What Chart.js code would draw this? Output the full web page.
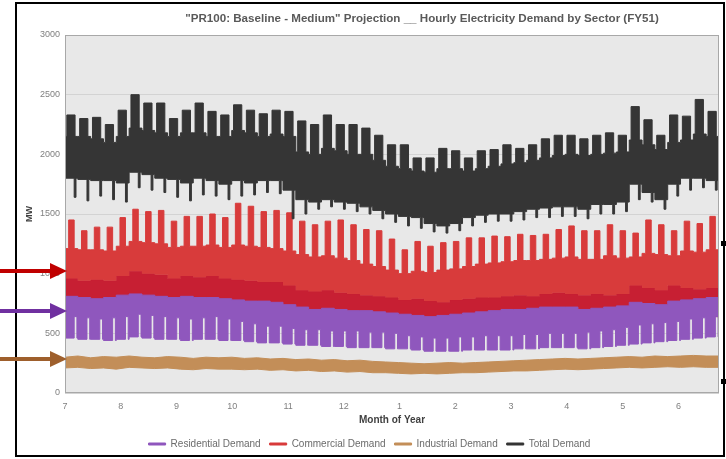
<!DOCTYPE html>
<html>
<head>
<meta charset="utf-8">
<script src="https://cdn.jsdelivr.net/npm/chart.js@4.4.0/dist/chart.umd.min.js"></script>
<style>
  html, body { margin: 0; padding: 0; background: #fff; }
  canvas { display: block; }
</style>
</head>
<body>
<canvas id="chart" width="726" height="459"></canvas>
<script>
// month tick labels (fiscal year starts in July)
const monthLabels = ['7', '8', '9', '10', '11', '12', '1', '2', '3', '4', '5', '6'];
const legendNames = ['Residential Demand', 'Commercial Demand', 'Industrial Demand', 'Total Demand'];

// weekly readings, MW (week 0 = first week of July)
const totalPeak = [2330, 2300, 2310, 2250, 2370, 2500, 2430, 2430, 2300, 2370, 2430, 2360, 2330,
  2415, 2370, 2340, 2370, 2360, 2280, 2250, 2330, 2250, 2250, 2220, 2160, 2080,
  2080, 1970, 1970, 2050, 2030, 1970, 2030, 2040, 2080, 2050, 2080, 2130, 2160,
  2160, 2130, 2160, 2180, 2160, 2400, 2290, 2160, 2330, 2320, 2460, 2360];
const totalBase = [2150, 2150, 2130, 2100, 2150, 2220, 2200, 2180, 2150, 2180, 2180, 2150, 2150,
  2200, 2180, 2150, 2170, 2150, 2020, 2000, 2050, 2030, 2000, 2000, 1950, 1900,
  1880, 1860, 1850, 1880, 1880, 1860, 1880, 1900, 1920, 1930, 1950, 1970, 1990,
  2000, 1990, 2000, 2010, 2020, 2120, 2080, 2040, 2100, 2120, 2170, 2150];
const totalLow = [1800, 1790, 1780, 1780, 1760, 1850, 1830, 1800, 1790, 1760, 1800, 1780, 1750,
  1780, 1760, 1780, 1780, 1700, 1620, 1600, 1620, 1600, 1590, 1560, 1530, 1500,
  1480, 1470, 1420, 1400, 1420, 1470, 1490, 1500, 1500, 1520, 1540, 1550, 1560,
  1560, 1540, 1580, 1580, 1600, 1750, 1680, 1620, 1750, 1800, 1800, 1780];
const totalDip = [1640, 1610, 1650, 1620, 1600, 1720, 1700, 1680, 1640, 1610, 1660, 1650, 1620,
  1650, 1660, 1680, 1670, 1460, 1500, 1540, 1560, 1540, 1520, 1500, 1460, 1430,
  1400, 1380, 1350, 1340, 1360, 1400, 1430, 1440, 1440, 1450, 1470, 1470, 1480,
  1480, 1460, 1500, 1500, 1520, 1620, 1600, 1540, 1650, 1700, 1720, 1700];

const comPeak = [1450, 1360, 1390, 1390, 1470, 1540, 1520, 1530, 1440, 1480, 1480, 1500, 1470,
  1590, 1565, 1520, 1530, 1510, 1440, 1410, 1440, 1450, 1410, 1370, 1360, 1290,
  1200, 1270, 1230, 1260, 1270, 1300, 1300, 1315, 1310, 1330, 1320, 1330, 1370,
  1400, 1360, 1360, 1410, 1360, 1340, 1450, 1410, 1360, 1440, 1420, 1480];
const comBase = [1210, 1200, 1200, 1190, 1230, 1270, 1260, 1250, 1220, 1230, 1230, 1240, 1220,
  1240, 1230, 1220, 1210, 1190, 1160, 1140, 1150, 1130, 1110, 1080, 1060, 1030,
  1000, 1020, 1010, 1030, 1040, 1060, 1080, 1090, 1100, 1110, 1110, 1120, 1130,
  1140, 1120, 1120, 1150, 1130, 1140, 1170, 1160, 1150, 1190, 1180, 1200];
const comMid = [960, 940, 950, 940, 980, 1020, 1000, 990, 960, 980, 970, 980, 960,
  950, 940, 930, 930, 900, 860, 850, 860, 840, 830, 820, 810, 800,
  780, 790, 770, 760, 780, 790, 800, 800, 810, 820, 810, 830, 840,
  830, 820, 830, 820, 830, 900, 880, 860, 900, 880, 870, 880];
const comLow = [720, 720, 720, 720, 720, 720, 720, 720, 720, 720, 720, 720, 720,
  700, 700, 700, 700, 700, 650, 650, 650, 650, 650, 650, 650, 650,
  610, 610, 610, 610, 610, 610, 610, 610, 610, 610, 610, 610, 610,
  640, 640, 640, 640, 640, 640, 640, 640, 640, 640, 640, 640];

const resHigh = [810, 800, 790, 800, 820, 830, 820, 810, 800, 810, 800, 800, 790,
  780, 770, 770, 760, 740, 720, 700, 710, 700, 690, 690, 680, 670,
  660, 650, 640, 650, 660, 670, 680, 690, 700, 700, 710, 720, 720,
  720, 700, 710, 720, 730, 760, 750, 740, 770, 780, 790, 800];
const resLow = [460, 450, 450, 440, 450, 470, 460, 450, 450, 440, 450, 450, 440,
  440, 430, 420, 420, 410, 400, 400, 390, 390, 380, 380, 380, 370,
  370, 360, 350, 350, 350, 360, 360, 360, 360, 370, 370, 380, 380,
  380, 370, 380, 390, 400, 410, 420, 430, 440, 450, 460, 470];
const resNotch = [640, 630, 620, 630, 640, 660, 650, 640, 630, 620, 630, 640, 620,
  600, 580, 560, 560, 540, 530, 530, 520, 520, 520, 510, 510, 500,
  480, 470, 460, 460, 470, 470, 480, 480, 480, 490, 490, 500, 500,
  500, 510, 520, 530, 550, 570, 580, 590, 600, 620, 630, 640];

const indHigh = [300, 310, 295, 305, 300, 310, 300, 295, 305, 300, 290, 300, 295,
  300, 290, 295, 285, 290, 280, 285, 275, 280, 270, 275, 265, 260,
  255, 250, 245, 250, 255, 250, 255, 260, 265, 270, 275, 280, 285,
  290, 285, 290, 295, 300, 305, 300, 310, 305, 310, 315, 310];
const indLow = [210, 215, 205, 210, 200, 215, 210, 205, 210, 200, 195, 205, 200,
  200, 195, 200, 190, 195, 185, 190, 180, 185, 175, 180, 170, 170,
  165, 160, 165, 160, 165, 170, 170, 175, 180, 185, 185, 190, 195,
  200, 195, 200, 205, 210, 215, 210, 215, 220, 215, 220, 215];

const DAYS_PER_MONTH = 30.44;
const WEEK = 7;
const lastDay = totalPeak.length * WEEK;

// weekly envelope with a short excursion (weekday peak / weekend dip) inside each week
function toothLine(base, spike, from, to) {
  const pts = [];
  base.forEach((v, w) => {
    pts.push({ x: w * WEEK, y: v }, { x: w * WEEK + from, y: spike[w] }, { x: w * WEEK + to, y: v });
  });
  pts.push({ x: lastDay, y: base[base.length - 1] });
  return pts;
}
function weekLine(vals) {
  const pts = vals.map((v, w) => ({ x: w * WEEK, y: v }));
  pts.push({ x: lastDay, y: vals[vals.length - 1] });
  return pts;
}

const PURPLE = '#8f57bd', RED = '#d83b3b', DARKRED = '#c71f33', TAN = '#c38e58', BLACK = '#353535';

function band(label, data, color, order, extra) {
  return Object.assign({
    label: label, data: data, borderColor: color, backgroundColor: color,
    borderWidth: 1, pointRadius: 0, stepped: true, fill: false, order: order
  }, extra || {});
}

const datasets = [
  band('Residential Demand', weekLine(resHigh), PURPLE, 0, { fill: '+1' }),
  band('', toothLine(resLow, resNotch, 5, 6.5), PURPLE, 0),
  band('Commercial Demand', toothLine(comBase, comPeak, 2, 5), RED, 2, { fill: '+1' }),
  band('', weekLine(comMid), DARKRED, 2, { fill: '+1' }),
  band('', weekLine(comLow), DARKRED, 2),
  band('Industrial Demand', weekLine(indHigh), TAN, 3, { fill: '+1', stepped: false }),
  band('', weekLine(indLow), TAN, 3, { stepped: false }),
  band('Total Demand', toothLine(totalBase, totalPeak, 1, 5.5), BLACK, 1, { fill: '+1' }),
  band('', toothLine(totalLow, totalDip, 5, 6), BLACK, 1)
];

// plot background, border, title, outer frame and the pointer arrows
const decor = {
  id: 'decor',
  beforeDraw(chart) {
    const { ctx, chartArea: a } = chart;
    ctx.save();
    ctx.fillStyle = '#e8e8e8';
    ctx.fillRect(a.left, a.top, a.right - a.left, a.bottom - a.top);
    ctx.restore();
  },
  afterDatasetsDraw(chart) {
    const { ctx, chartArea: a } = chart;
    ctx.save();
    ctx.strokeStyle = '#a8a8a8';
    ctx.lineWidth = 1;
    ctx.strokeRect(a.left + 0.5, a.top + 0.5, a.right - a.left - 1, a.bottom - a.top - 1);
    ctx.restore();
  },
  afterDraw(chart) {
    const ctx = chart.ctx;
    ctx.save();
    ctx.fillStyle = '#595959';
    ctx.font = 'bold 11.6px "Liberation Sans", Arial, sans-serif';
    ctx.textAlign = 'center';
    ctx.textBaseline = 'middle';
    ctx.fillText('"PR100: Baseline - Medium" Projection __ Hourly Electricity Demand by Sector (FY51)', 422, 19);

    ctx.strokeStyle = '#000';
    ctx.lineWidth = 2;
    ctx.strokeRect(16, 3, 708, 453);
    ctx.fillStyle = '#000';
    ctx.fillRect(721, 241, 5, 5);
    ctx.fillRect(721, 379, 5, 5);

    const arrow = (y, color) => {
      ctx.fillStyle = color;
      ctx.fillRect(0, y - 2, 52, 4);
      ctx.beginPath();
      ctx.moveTo(50, y - 8);
      ctx.lineTo(67, y);
      ctx.lineTo(50, y + 8);
      ctx.closePath();
      ctx.fill();
    };
    arrow(271, '#c00000');
    arrow(311, '#7030a0');
    arrow(359, '#9e5f2c');
    ctx.restore();
  }
};

Chart.defaults.font.family = '"Liberation Sans", Arial, sans-serif';

new Chart(document.getElementById('chart'), {
  type: 'line',
  data: { datasets: datasets },
  options: {
    responsive: false,
    animation: false,
    devicePixelRatio: 1,
    layout: { padding: { left: 20, right: 7, top: 35, bottom: 0 } },
    plugins: {
      tooltip: { enabled: false },
      title: { display: false },
      legend: {
        position: 'bottom',
        labels: {
          boxWidth: 17, boxHeight: 2, padding: 9,
          color: '#6b6b6b', font: { size: 10 },
          filter: (item) => legendNames.includes(item.text),
          sort: (a, b) => legendNames.indexOf(a.text) - legendNames.indexOf(b.text)
        }
      }
    },
    scales: {
      x: {
        type: 'linear', min: 0, max: lastDay,
        grid: { display: false },
        border: { display: false },
        afterBuildTicks: (scale) => {
          scale.ticks = monthLabels.map((m, i) => ({ value: i * DAYS_PER_MONTH }));
        },
        afterFit: (scale) => { scale.height = 37; },
        ticks: {
          autoSkip: false, maxRotation: 0, padding: 0,
          color: '#808080', font: { size: 9 },
          callback: (v, i) => monthLabels[i]
        },
        title: {
          display: true, text: 'Month of Year', color: '#404040',
          font: { size: 10, weight: 'bold' }, padding: { top: 0, bottom: 4 }
        }
      },
      y: {
        min: 0, max: 3000,
        afterFit: (scale) => { scale.width = 45; },
        grid: { color: '#d3d3d3', drawTicks: false },
        border: { display: false },
        ticks: {
          stepSize: 500, padding: 5, color: '#808080', font: { size: 9 },
          callback: (v) => String(v)
        },
        title: {
          display: true, text: 'MW', color: '#404040',
          font: { size: 9, weight: 'bold' }, padding: 4
        }
      }
    }
  },
  plugins: [decor]
});
</script>
</body>
</html>
